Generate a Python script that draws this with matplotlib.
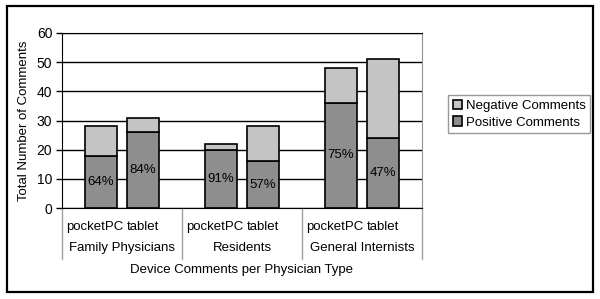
import matplotlib.pyplot as plt
import matplotlib.patches as patches
import numpy as np

plt.rcParams['font.family'] = ['Liberation Sans', 'DejaVu Sans']
plt.rcParams['font.size'] = 9.5

groups = ['Family Physicians', 'Residents', 'General Internists']
devices = ['pocketPC', 'tablet']
positive = [18, 26, 20, 16, 36, 24]
negative = [10, 5, 2, 12, 12, 27]
pct_labels = ['64%', '84%', '91%', '57%', '75%', '47%']

POS_COLOR = '#8e8e8e'
NEG_COLOR = '#c4c4c4'

fig = plt.figure(figsize=(6, 2.99), dpi=100)
ax = fig.add_axes([62 / 600, 1 - 208 / 299, 360 / 600, 175 / 299])

# outer frame around the whole chart
fig.patches.append(patches.Rectangle((7 / 600, 1 - 292 / 299), 586 / 600, 286 / 299,
                                     transform=fig.transFigure, fill=False,
                                     edgecolor='black', linewidth=1.6))

x = np.array([g * 2 + off for g in range(len(groups)) for off in (0.65, 1.35)])
width = 0.52

ax.bar(x, positive, width, color=POS_COLOR, edgecolor='black', linewidth=1.2,
       label='Positive Comments', zorder=3)
ax.bar(x, negative, width, bottom=positive, color=NEG_COLOR, edgecolor='black',
       linewidth=1.2, label='Negative Comments', zorder=3)

for xi, p, lab in zip(x, positive, pct_labels):
    ax.text(xi, p / 2, lab, ha='center', va='center', fontsize=9.5, zorder=4)

ax.set_xlim(0, 6)
ax.set_ylim(0, 60)
ax.set_yticks(range(0, 61, 10))
ax.yaxis.grid(True, color='black', linewidth=1)
ax.set_axisbelow(True)
ax.tick_params(axis='y', length=4, width=1, pad=3, labelsize=10)

ax.set_xticks([])
for side in ['left', 'bottom', 'top']:
    ax.spines[side].set_color('black')
ax.spines['right'].set_color('#909090')

# category labels, group labels and divider lines below the axis
xt = ax.get_xaxis_transform()
label_shift = {'pocketPC': -0.11, 'tablet': 0.0}
for xi, dev in zip(x, devices * len(groups)):
    ax.text(xi + label_shift[dev], -0.11, dev, transform=xt,
            ha='center', va='center', fontsize=9.5)
for g, name in enumerate(groups):
    ax.text(g * 2 + 1, -0.23, name, transform=xt,
            ha='center', va='center', fontsize=9.5)
for d in range(0, 7, 2):
    ax.plot([d, d], [0, -0.29], transform=xt,
            color='#a0a0a0', linewidth=1, clip_on=False)

ax.text(3, -0.355, 'Device Comments per Physician Type', transform=xt,
        ha='center', va='center', fontsize=9.5)
ax.set_ylabel('Total Number of Comments', fontsize=9.5, labelpad=5)

handles, labels = ax.get_legend_handles_labels()
leg = fig.legend(handles[::-1], labels[::-1], loc='upper left',
                 bbox_to_anchor=(448 / 600, 1 - 95 / 299), frameon=True,
                 fancybox=False, edgecolor='#808080', fontsize=9.5,
                 handlelength=0.7, handleheight=0.7, handletextpad=0.3,
                 borderpad=0.35, labelspacing=0.35, borderaxespad=0)
leg.get_frame().set_linewidth(1)

plt.savefig('out.png', dpi=100)
